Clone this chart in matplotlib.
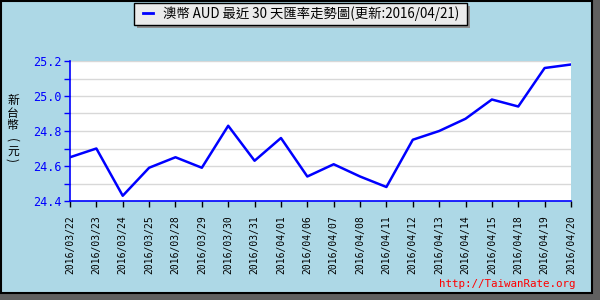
import matplotlib
matplotlib.use("Agg")
import matplotlib.pyplot as plt
from matplotlib.patches import Rectangle
from matplotlib.ticker import MultipleLocator

dates = ["2016/03/22", "2016/03/23", "2016/03/24", "2016/03/25", "2016/03/28",
         "2016/03/29", "2016/03/30", "2016/03/31", "2016/04/01", "2016/04/06",
         "2016/04/07", "2016/04/08", "2016/04/11", "2016/04/12", "2016/04/13",
         "2016/04/14", "2016/04/15", "2016/04/18", "2016/04/19", "2016/04/20"]
rates = [24.65, 24.70, 24.43, 24.59, 24.65, 24.59, 24.83, 24.63, 24.76, 24.54,
         24.61, 24.54, 24.48, 24.75, 24.80, 24.87, 24.98, 24.94, 25.16, 25.18]
yticks = [24.4, 24.6, 24.8, 25.0, 25.2]
title = "澳幣 AUD 最近 30 天匯率走勢圖(更新:2016/04/21)"
ylabel_chars = ["新", "台", "幣", "(", "元", ")"]
watermark = "http://TaiwanRate.org"

W, H = 600, 300
fig = plt.figure(figsize=(6, 3), dpi=100)
fig.patch.set_facecolor("#ADD8E6")

def px(x0, y0, w, h):
    return (x0 / W, 1 - (y0 + h) / H, w / W, h / H)

# frame: shadow (gray) and black border
fig.patches.append(Rectangle((593 / W, 0), 7 / W, 1, transform=fig.transFigure,
                             facecolor="#606060", edgecolor="none", zorder=0))
fig.patches.append(Rectangle((0, 0), 1, 7 / H, transform=fig.transFigure,
                             facecolor="#606060", edgecolor="none", zorder=0))
fig.patches.append(Rectangle((1 / W, 7 / H), 591 / W, 292 / H, transform=fig.transFigure,
                             facecolor="none", edgecolor="black", linewidth=1.5, zorder=1))

ax = fig.add_axes(px(70, 61, 501, 140))
ax.set_facecolor("white")
x = list(range(len(dates)))
ax.plot(x, rates, color="#0000FF", linewidth=1.8, zorder=3)
ax.set_xlim(0, len(dates) - 1)
ax.set_ylim(yticks[0], yticks[-1])
ax.set_xticks(x)
ax.set_xticklabels(dates, rotation=90, fontfamily="DejaVu Sans Mono", fontsize=7, color="black")
ax.set_yticks(yticks)
ax.set_yticklabels([f"{v:.1f}" for v in yticks], fontfamily="DejaVu Sans Mono",
                   fontsize=8.5, color="#0000FF")
ax.yaxis.set_minor_locator(MultipleLocator(0.1))
ax.grid(True, which="both", axis="y", color="#D8D8D8", linewidth=1)
ax.tick_params(axis="y", which="both", colors="#0000FF", length=4, width=1, labelcolor="#0000FF", pad=2)
ax.tick_params(axis="x", colors="black", length=4, width=1, direction="out", pad=6)
for s in ["top", "right"]:
    ax.spines[s].set_visible(False)
ax.spines["left"].set_color("#0000FF")
ax.spines["bottom"].set_color("#0000FF")
ax.spines["left"].set_linewidth(1.2)
ax.spines["bottom"].set_linewidth(1.2)
ax.set_axisbelow(True)

# y label (vertical stacked, parentheses rotated)
ypos = [99, 112, 124, 140, 150, 160]
for ch, yy in zip(ylabel_chars, ypos):
    rot = -90 if ch in "()" else 0
    fig.text(13 / W, 1 - yy / H, ch, ha="center", va="center_baseline", rotation=rot,
             rotation_mode="anchor",
             fontfamily=["Noto Sans CJK TC", "DejaVu Sans"], fontsize=8.5)

# legend box with shadow
fig.patches.append(Rectangle((137 / W, 1 - 28 / H), 333 / W, 22 / H, transform=fig.transFigure,
                             facecolor="#909090", edgecolor="none", zorder=2))
fig.patches.append(Rectangle((134 / W, 1 - 25 / H), 333 / W, 22 / H, transform=fig.transFigure,
                             facecolor="#EBEBEB", edgecolor="black", linewidth=1, zorder=3))
fig.lines.append(plt.Line2D([143 / W, 153 / W], [1 - 13 / H, 1 - 13 / H], transform=fig.transFigure,
                            color="#0000FF", linewidth=2, zorder=4))
fig.text(163 / W, 1 - 14 / H, title, ha="left", va="center",
         fontfamily=["Noto Sans CJK TC", "DejaVu Sans"], fontsize=9.6, zorder=5)

fig.text(575 / W, 1 - 284 / H, watermark, ha="right", va="center", color="red",
         fontfamily="DejaVu Sans Mono", fontsize=7.8)

fig.savefig("out.png", dpi=100, facecolor=fig.get_facecolor())
